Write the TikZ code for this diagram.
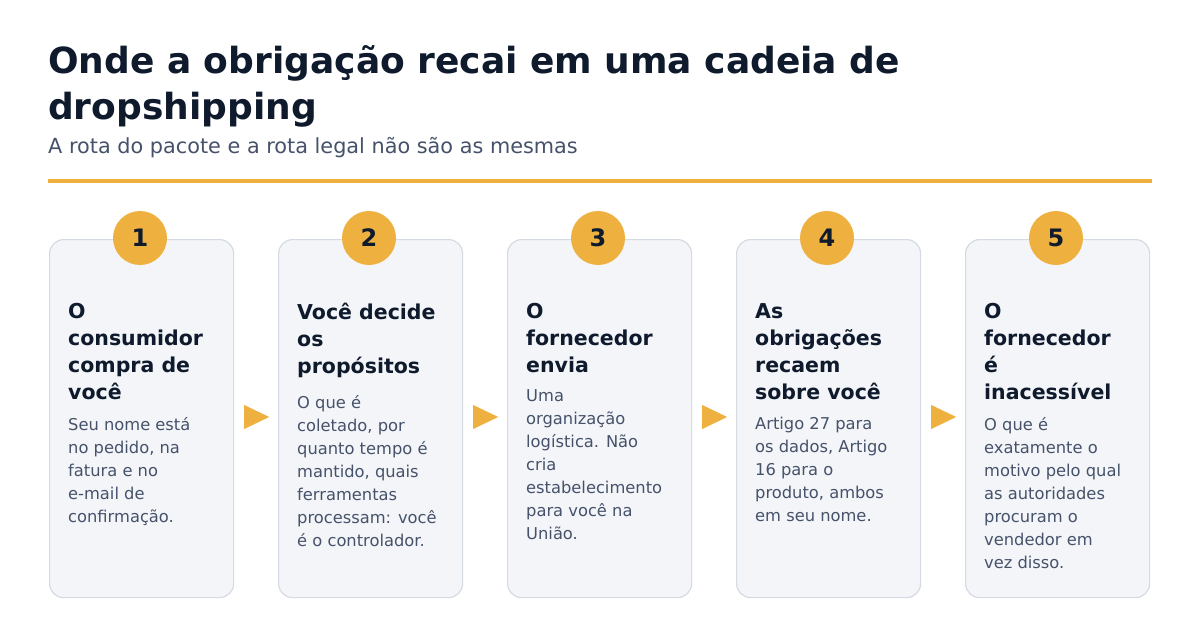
\documentclass[tikz,border=0pt]{standalone}
\usepackage{fontspec}
\setmainfont{DejaVu Sans}
\usetikzlibrary{positioning}
\definecolor{ink}{HTML}{0F1B2D}
\definecolor{body}{HTML}{46526A}
\definecolor{gold}{HTML}{EEB13F}
\definecolor{cardbg}{HTML}{F3F5F9}
\definecolor{cardline}{HTML}{D5DBE3}
\tikzset{
  card/.style={draw=cardline,fill=cardbg,line width=1.2pt,rounded corners=14pt,minimum width=184pt,minimum height=358pt,anchor=north west},
  badge/.style={circle,fill=gold,minimum size=54pt,inner sep=0pt,text=ink,font=\fontsize{24}{24}\selectfont\bfseries},
  head/.style={anchor=north west,align=left,text=ink,inner sep=0pt,font=\fontsize{20.5}{27}\selectfont\bfseries},
  txt/.style={below=17pt of #1.south west,anchor=north west,align=left,text=body,inner sep=0pt,font=\fontsize{16.3}{23}\selectfont},
  pointer/.style={fill=gold,draw=none}
}
\begin{document}
\begin{tikzpicture}[x=1pt,y=-1pt]
\useasboundingbox (0,0) rectangle (1200,637);
\fill[white] (0,0) rectangle (1200,637);
% heading
\node[anchor=north west,align=left,text=ink,inner sep=0pt,font=\fontsize{36}{46}\selectfont\bfseries] (title) at (48,45) {Onde a obrigação recai em uma cadeia de\\dropshipping};
\node[anchor=north west,text=body,inner sep=0pt,font=\fontsize{20.8}{24}\selectfont] (sub) at (48,137) {A rota do pacote e a rota legal não são as mesmas};
\draw[gold,line width=4pt] (48,181) -- (1152,181);
% cards
\foreach \i/\h/\t in {
 1/{O\\consumidor\\compra de\\você}/{Seu nome está\\no pedido, na\\fatura e no\\e-mail de\\confirmação.},
 2/{Você decide\\os\\propósitos}/{O que é\\coletado, por\\quanto tempo é\\mantido, quais\\ferramentas\\processam: você\\é o controlador.},
 3/{O\\fornecedor\\envia}/{Uma\\organização\\logística. Não\\cria\\estabelecimento\\para você na\\União.},
 4/{As\\obrigações\\recaem\\sobre você}/{Artigo 27 para\\os dados, Artigo\\16 para o\\produto, ambos\\em seu nome.},
 5/{O\\fornecedor\\é\\inacessível}/{O que é\\exatamente o\\motivo pelo qual\\as autoridades\\procuram o\\vendedor em\\vez disso.}}{
  \pgfmathsetmacro{\cx}{49+229*(\i-1)}
  \node[card] (card\i) at (\cx,239) {};
  \node[badge] (num\i) at (\cx+91,238) {\i};
  \node[head] (head\i) at (\cx+19,303) {\h};
  \node[txt=head\i] (txt\i) {\t};
}
% arrows between cards
\foreach \i in {1,...,4}{
  \fill[pointer] ([xshift=10pt]card\i.east |- 0,405) -- ++(25,12) -- ++(-25,12) -- cycle;
}
\end{tikzpicture}
\end{document}
